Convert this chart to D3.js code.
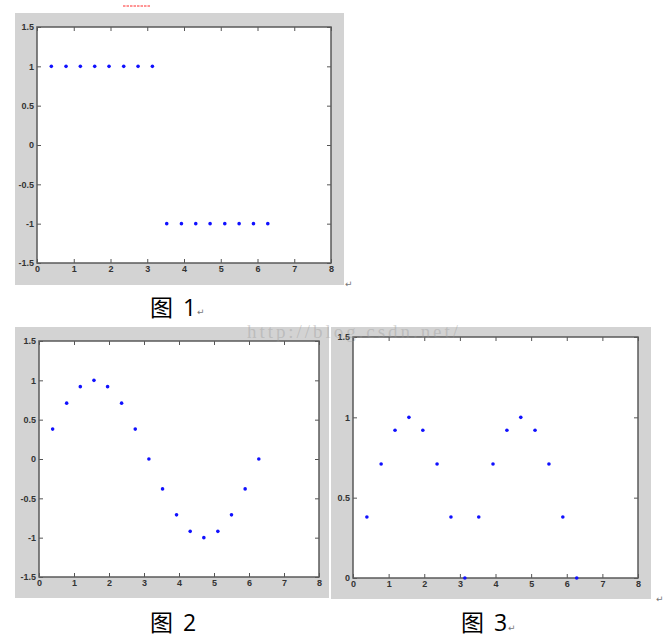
<!DOCTYPE html>
<html>
<head>
<meta charset="utf-8">
<script src="https://cdn.jsdelivr.net/npm/d3@7"></script>
<style>
  body { margin: 0; background: #fff; }
  .tick text { font-family: "Liberation Sans", Arial, sans-serif; font-size: 9px; font-weight: bold; fill: #333; }
  .tick line { stroke: #555; }
</style>
</head>
<body>
<svg id="page" width="666" height="640"></svg>
<script>
// ========== Data ==========
const xVals = [0.39, 0.79, 1.18, 1.57, 1.96, 2.36, 2.75, 3.14, 3.53, 3.93, 4.32, 4.71, 5.11, 5.50, 5.89, 6.28];
const ySquare = [1, 1, 1, 1, 1, 1, 1, 1, -1, -1, -1, -1, -1, -1, -1, -1];
const ySine = [0.38, 0.71, 0.92, 1, 0.92, 0.71, 0.38, 0, -0.38, -0.71, -0.92, -1, -0.92, -0.71, -0.38, 0];
const yAbsSine = [0.38, 0.71, 0.92, 1, 0.92, 0.71, 0.38, 0, 0.38, 0.71, 0.92, 1, 0.92, 0.71, 0.38, 0];
const xTicks = [0, 1, 2, 3, 4, 5, 6, 7, 8];
const yTicksFull = [-1.5, -1, -0.5, 0, 0.5, 1, 1.5];
const yTicksPos = [0, 0.5, 1, 1.5];
const captions = ["图 1", "图 2", "图 3"];

const svg = d3.select("#page");

// ========== One MATLAB-style panel ==========
function drawPanel(p) {
    // gray figure background
    svg.append("rect")
        .attr("x", p.bg[0]).attr("y", p.bg[1])
        .attr("width", p.bg[2]).attr("height", p.bg[3])
        .attr("fill", "#d3d3d3");

    const x = d3.scaleLinear().domain([0, 8]).range([p.plot[0], p.plot[2]]);
    const y = d3.scaleLinear().domain(p.yDomain).range([p.plot[3], p.plot[1]]);

    const g = svg.append("g");

    g.append("rect")
        .attr("x", p.plot[0]).attr("y", p.plot[1])
        .attr("width", p.plot[2] - p.plot[0]).attr("height", p.plot[3] - p.plot[1])
        .attr("fill", "#fff");

    const fmt = d => String(d);

    g.append("g")
        .attr("transform", `translate(0,${p.plot[3]})`)
        .call(d3.axisBottom(x).tickValues(xTicks).tickFormat(fmt).tickSizeInner(-4).tickSizeOuter(0).tickPadding(3))
        .call(a => a.select(".domain").remove());
    g.append("g")
        .attr("transform", `translate(0,${p.plot[1]})`)
        .call(d3.axisTop(x).tickValues(xTicks).tickFormat("").tickSizeInner(-4).tickSizeOuter(0))
        .call(a => a.select(".domain").remove());
    g.append("g")
        .attr("transform", `translate(${p.plot[0]},0)`)
        .call(d3.axisLeft(y).tickValues(p.yTicks).tickFormat(fmt).tickSizeInner(-4).tickSizeOuter(0).tickPadding(3))
        .call(a => a.select(".domain").remove());
    g.append("g")
        .attr("transform", `translate(${p.plot[2]},0)`)
        .call(d3.axisRight(y).tickValues(p.yTicks).tickFormat("").tickSizeInner(-4).tickSizeOuter(0))
        .call(a => a.select(".domain").remove());

    // box
    g.append("rect")
        .attr("x", p.plot[0]).attr("y", p.plot[1])
        .attr("width", p.plot[2] - p.plot[0]).attr("height", p.plot[3] - p.plot[1])
        .attr("fill", "none")
        .attr("stroke", "#5a5a5a")
        .attr("stroke-width", 1.5);

    // points
    g.selectAll(".pt")
        .data(xVals.map((v, i) => [v, p.yVals[i]]))
        .enter().append("circle")
        .attr("class", "pt")
        .attr("cx", d => x(d[0]))
        .attr("cy", d => y(d[1]))
        .attr("r", 1.8)
        .attr("fill", "#1010ff");

    // caption: "图" and the number, with a wide gap like the Word original
    const parts = p.caption.split(" ");
    const cap = svg.append("text")
        .attr("x", p.cap[0]).attr("y", p.cap[1])
        .attr("font-size", 23)
        .attr("fill", "#000");
    cap.append("tspan")
        .attr("font-family", "'Noto Sans CJK SC', sans-serif")
        .text(parts[0]);
    cap.append("tspan")
        .attr("dx", 10)
        .attr("font-family", "'Open Sans', sans-serif")
        .text(parts[1]);
}

drawPanel({ bg: [15, 13, 329, 272], plot: [37, 27, 331, 263], yDomain: [-1.5, 1.5], yTicks: yTicksFull, yVals: ySquare, caption: captions[0], cap: [150, 316] });
drawPanel({ bg: [15, 327, 314, 271], plot: [39, 341, 319, 577], yDomain: [-1.5, 1.5], yTicks: yTicksFull, yVals: ySine, caption: captions[1], cap: [150, 631] });
drawPanel({ bg: [331, 327, 320, 272], plot: [353, 337, 638, 578], yDomain: [0, 1.5], yTicks: yTicksPos, yVals: yAbsSine, caption: captions[2], cap: [461, 631] });

// ========== Word-document leftovers ==========
const marks = [[345, 287], [197, 315], [656, 602], [508, 631]];
svg.selectAll(".ret")
    .data(marks)
    .enter().append("text")
    .attr("class", "ret")
    .attr("x", d => d[0]).attr("y", d => d[1])
    .attr("font-family", "'DejaVu Sans', sans-serif")
    .attr("font-size", 9)
    .attr("fill", "#777")
    .text("↵");

svg.append("line")
    .attr("x1", 123).attr("x2", 150).attr("y1", 6).attr("y2", 6)
    .attr("stroke", "#ff2a2a").attr("stroke-width", 1)
    .attr("stroke-dasharray", "2.5,1");

// watermark
svg.append("text")
    .attr("x", 247).attr("y", 338)
    .attr("font-family", "'Liberation Serif', serif")
    .attr("font-size", 19)
    .attr("fill", "#999")
    .attr("fill-opacity", 0.4)
    .attr("textLength", 211)
    .text("http://blog.csdn.net/");
</script>
</body>
</html>
